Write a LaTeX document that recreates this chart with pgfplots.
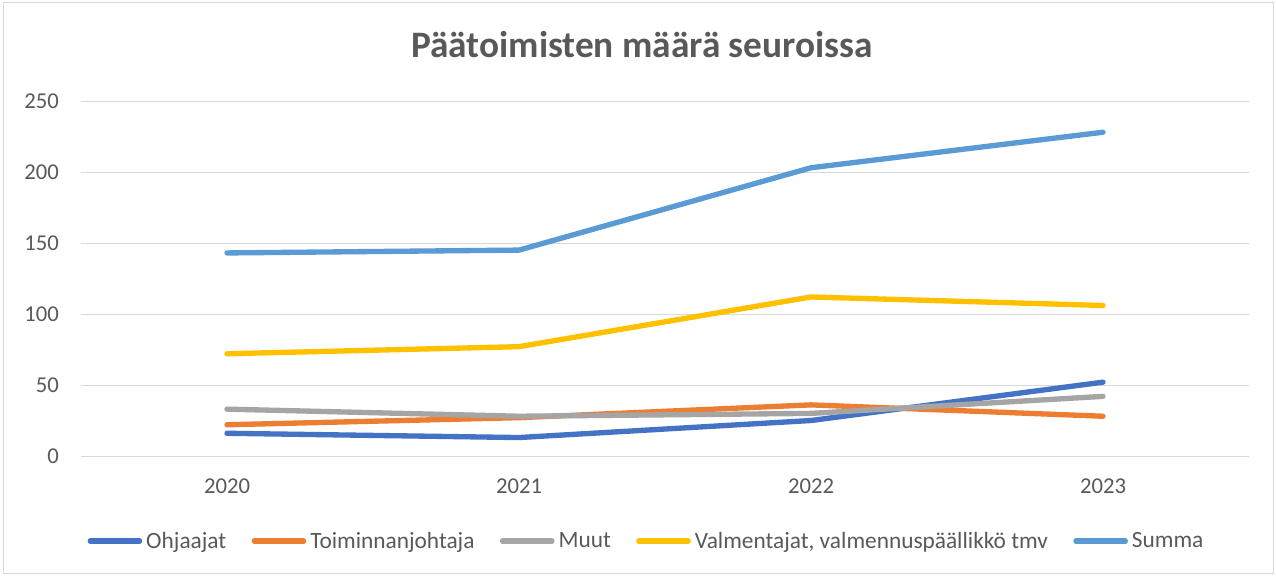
\documentclass[border=0pt]{standalone}
\usepackage{pgfplots}
\pgfplotsset{compat=1.18}
\usepackage{fontspec}
\setmainfont{Carlito}
\definecolor{cOhj}{HTML}{4472C4}
\definecolor{cToi}{HTML}{ED7D31}
\definecolor{cMuu}{HTML}{A5A5A5}
\definecolor{cVal}{HTML}{FFC000}
\definecolor{cSum}{HTML}{5B9BD5}
\definecolor{txt}{HTML}{595959}
\definecolor{grd}{HTML}{D9D9D9}
\begin{document}
\begin{tikzpicture}[x=0.75pt,y=0.75pt]
\useasboundingbox (0,0) rectangle (1276,576);
\draw[grd, line width=0.75pt] (3,3) rectangle (1273,573);
\node[anchor=base, text=txt, font=\fontsize{28}{32}\selectfont\bfseries] at (642,{576-58}) {Päätoimisten määrä seuroissa};
\begin{axis}[
  at={(81pt*0.75,{(576-456)*0.75pt})}, anchor=south west,
  scale only axis, width=876pt, height=266.25pt,
  xmin=-0.5, xmax=3.5, ymin=0, ymax=250,
  xtick={0,1,2,3}, xticklabels={2020,2021,2022,2023},
  ytick={0,50,100,150,200,250},
  /pgf/number format/assume math mode=true,
  major tick length=0pt,
  axis line style={draw=none},
  axis x line*=bottom, axis y line*=left,
  ymajorgrids, grid style={grd, line width=0.75pt},
  tick label style={text=txt, font=\fontsize{17}{20}\selectfont},
  yticklabel style={xshift=-13pt},
  xticklabel style={yshift=-13.5pt},
  every axis plot/.append style={line width=4pt, line cap=round, line join=round, mark=none},
  legend columns=5,
  legend style={draw=none, fill=none, at={(0.485,-0.2394)}, anchor=center,
    font=\fontsize{17.5}{20}\selectfont, text=txt,
    /tikz/every even column/.append style={column sep=16pt},
    nodes={inner xsep=3pt}},
  legend image code/.code={\draw[#1, line width=4pt, line cap=round] (2pt,0pt) -- (39pt,0pt);},
]
\addplot[cOhj] coordinates {(0,16) (1,13) (2,25) (3,52)};
\addlegendentry{Ohjaajat}
\addplot[cToi] coordinates {(0,22) (1,27) (2,36) (3,28)};
\addlegendentry{Toiminnanjohtaja}
\addplot[cMuu] coordinates {(0,33) (1,28) (2,30) (3,42)};
\addlegendentry{Muut}
\addplot[cVal] coordinates {(0,72) (1,77) (2,112) (3,106)};
\addlegendentry{Valmentajat, valmennuspäällikkö tmv}
\addplot[cSum] coordinates {(0,143) (1,145) (2,203) (3,228)};
\addlegendentry{Summa}
\end{axis}
\end{tikzpicture}
\end{document}
